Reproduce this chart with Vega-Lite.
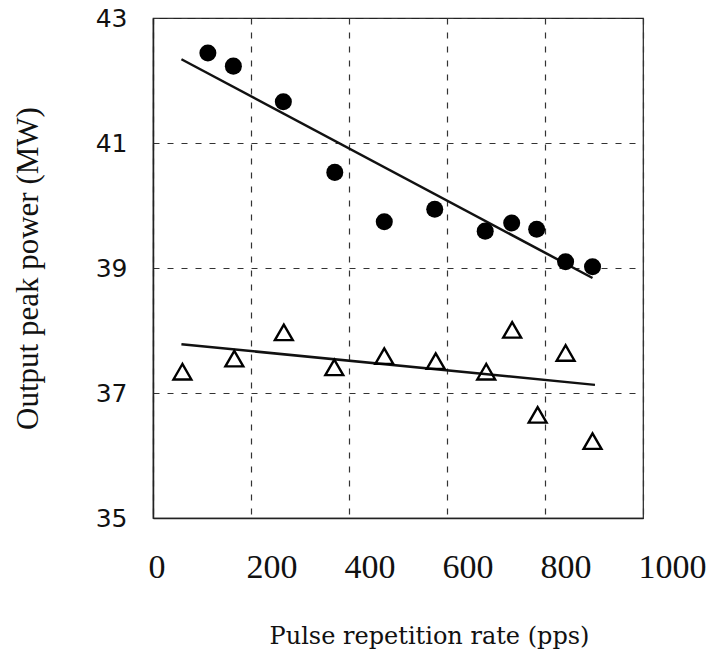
{
  "$schema": "https://vega.github.io/schema/vega-lite/v6.json",
  "autosize": {"type": "none"},
  "padding": {"left": 153, "top": 18, "right": 71, "bottom": 134},
  "width": 490,
  "height": 500,
  "background": "white",
  "config": {
    "view": {"stroke": "#222", "strokeWidth": 1.2},
    "axis": {
      "grid": true,
      "gridColor": "#333",
      "gridDash": [6, 8],
      "gridWidth": 1.2,
      "domainColor": "#222",
      "domainWidth": 1.5,
      "ticks": false,
      "tickSize": 0,
      "labelColor": "#111",
      "titleColor": "#111",
      "titleFontWeight": "normal"
    }
  },
  "datasets": {
    "points": [
      {"series": "circle", "rate": 112, "power": 42.44},
      {"series": "circle", "rate": 164, "power": 42.23},
      {"series": "circle", "rate": 266, "power": 41.66},
      {"series": "circle", "rate": 371, "power": 40.53},
      {"series": "circle", "rate": 472, "power": 39.74},
      {"series": "circle", "rate": 575, "power": 39.94},
      {"series": "circle", "rate": 678, "power": 39.59},
      {"series": "circle", "rate": 732, "power": 39.72},
      {"series": "circle", "rate": 783, "power": 39.62},
      {"series": "circle", "rate": 842, "power": 39.10},
      {"series": "circle", "rate": 897, "power": 39.02},
      {"series": "triangle", "rate": 60, "power": 37.34},
      {"series": "triangle", "rate": 166, "power": 37.55},
      {"series": "triangle", "rate": 267, "power": 37.97},
      {"series": "triangle", "rate": 370, "power": 37.41},
      {"series": "triangle", "rate": 472, "power": 37.59},
      {"series": "triangle", "rate": 577, "power": 37.51},
      {"series": "triangle", "rate": 680, "power": 37.34},
      {"series": "triangle", "rate": 733, "power": 38.01},
      {"series": "triangle", "rate": 785, "power": 36.65},
      {"series": "triangle", "rate": 842, "power": 37.64},
      {"series": "triangle", "rate": 897, "power": 36.23}
    ],
    "fits": [
      {"series": "circle", "rate": 58, "power": 42.34},
      {"series": "circle", "rate": 897, "power": 38.84},
      {"series": "triangle", "rate": 58, "power": 37.78},
      {"series": "triangle", "rate": 902, "power": 37.13}
    ]
  },
  "encoding": {
    "x": {
      "field": "rate",
      "type": "quantitative",
      "scale": {"domain": [0, 1000], "nice": false},
      "axis": {
        "title": "Pulse repetition rate (pps)",
        "values": [0, 200, 400, 600, 800, 1000],
        "format": "d",
        "labelFont": "Liberation Serif",
        "labelFontSize": 34,
        "labelAlign": "left",
        "labelOffset": -5,
        "labelBaseline": "alphabetic",
        "labelPadding": 59,
        "labelFlush": false,
        "labelOverlap": false,
        "titleFont": "DejaVu Serif",
        "titleFontSize": 24,
        "titleBaseline": "alphabetic",
        "titleAnchor": "middle",
        "titleX": 276,
        "titleY": 125
      }
    },
    "y": {
      "field": "power",
      "type": "quantitative",
      "scale": {"domain": [35, 43], "nice": false, "zero": false},
      "axis": {
        "title": "Output peak power (MW)",
        "values": [35, 37, 39, 41, 43],
        "labelFont": "DejaVu Sans",
        "labelFontSize": 25,
        "labelPadding": 26,
        "labelFlush": false,
        "labelOverlap": false,
        "titleFont": "Liberation Serif",
        "titleFontSize": 31,
        "titleAngle": -90,
        "titleBaseline": "alphabetic",
        "titleAnchor": "middle",
        "titleX": -116,
        "titleY": 250
      }
    }
  },
  "layer": [
    {
      "data": {"name": "fits"},
      "mark": {"type": "line", "color": "#111", "strokeWidth": 2.5},
      "encoding": {"detail": {"field": "series", "type": "nominal"}}
    },
    {
      "data": {"name": "points"},
      "transform": [{"filter": "datum.series === 'circle'"}],
      "mark": {"type": "point", "shape": "circle", "filled": true, "color": "#000", "size": 290, "opacity": 1}
    },
    {
      "data": {"name": "points"},
      "transform": [{"filter": "datum.series === 'triangle'"}],
      "mark": {"type": "point", "shape": "triangle-up", "filled": false, "color": "#000", "size": 320, "strokeWidth": 2.4, "opacity": 1}
    }
  ]
}
